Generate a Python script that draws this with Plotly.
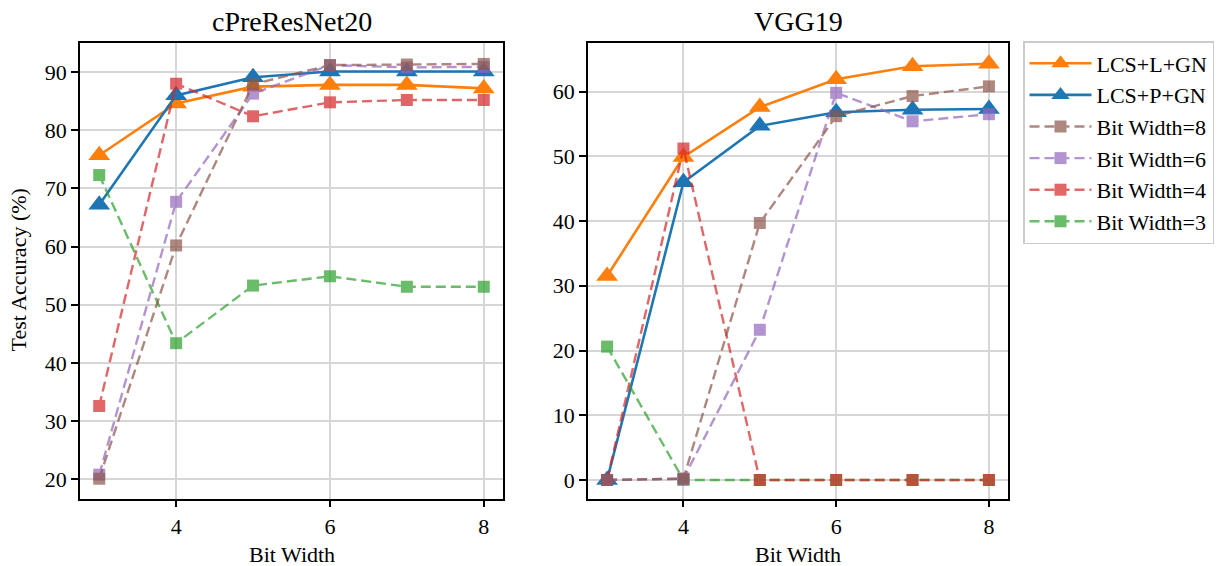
import plotly.graph_objects as go

# Bit widths on the x axis
bit_widths = [3, 4, 5, 6, 7, 8]

# cPreResNet20 test accuracy (%)
res_lcs_l_gn = [75.7, 84.6, 87.5, 87.8, 87.8, 87.2]
res_lcs_p_gn = [67.2, 86.0, 89.1, 90.1, 90.1, 90.1]
res_bw8 = [20.1, 60.2, 87.9, 91.2, 91.3, 91.4]
res_bw6 = [20.8, 67.7, 86.3, 91.2, 90.8, 90.9]
res_bw4 = [32.6, 88.0, 82.4, 84.8, 85.2, 85.2]
res_bw3 = [72.3, 43.4, 53.3, 54.9, 53.1, 53.1]

# VGG19 test accuracy (%)
vgg_lcs_l_gn = [31.5, 49.9, 57.6, 61.9, 63.9, 64.3]
vgg_lcs_p_gn = [0.0, 46.0, 54.7, 56.8, 57.2, 57.3]
vgg_bw8 = [0.0, 0.2, 39.7, 56.2, 59.3, 60.8]
vgg_bw6 = [0.0, 0.2, 23.2, 59.8, 55.4, 56.5]
vgg_bw4 = [0.0, 51.2, 0.0, 0.0, 0.0, 0.0]
vgg_bw3 = [20.6, 0.0, 0.0, 0.0, 0.0, 0.0]

x_ticks = [4, 6, 8]
left_y_ticks = [20, 30, 40, 50, 60, 70, 80, 90]
right_y_ticks = [0, 10, 20, 30, 40, 50, 60]

W, H = 1221, 566
FONT = "Liberation Serif"

ORANGE = "#ff7f0e"
BLUE = "#1f77b4"
BROWN = "#8c564b"
PURPLE = "#9467bd"
RED = "#d62728"
GREEN = "#2ca02c"


def px_x(p):
    return p / W


def px_y(p):
    return 1 - p / H


fig = go.Figure()

panels = [
    ("x", "y", res_lcs_l_gn, res_lcs_p_gn, res_bw8, res_bw6, res_bw4, res_bw3, True),
    ("x2", "y2", vgg_lcs_l_gn, vgg_lcs_p_gn, vgg_bw8, vgg_bw6, vgg_bw4, vgg_bw3, False),
]

for xa, ya, l_gn, p_gn, bw8, bw6, bw4, bw3, show in panels:
    # solid method curves
    for name, vals, color, rank in [
        ("LCS+L+GN", l_gn, ORANGE, 1),
        ("LCS+P+GN", p_gn, BLUE, 2),
    ]:
        fig.add_trace(go.Scatter(
            x=bit_widths, y=vals, name=name, mode="lines+markers",
            line=dict(color=color, width=2.6),
            marker=dict(symbol="triangle-up", size=19, color=color),
            xaxis=xa, yaxis=ya, showlegend=show, legendrank=rank,
            legendgroup=name,
        ))
    # dashed fixed-bit-width baselines
    for name, vals, color, rank in [
        ("Bit Width=3", bw3, GREEN, 6),
        ("Bit Width=4", bw4, RED, 5),
        ("Bit Width=6", bw6, PURPLE, 4),
        ("Bit Width=8", bw8, BROWN, 3),
    ]:
        fig.add_trace(go.Scatter(
            x=bit_widths, y=vals, name=name, mode="lines+markers",
            line=dict(color=color, width=2.4, dash="10px,5px"),
            marker=dict(symbol="square", size=12, color=color),
            opacity=0.7,
            xaxis=xa, yaxis=ya, showlegend=show, legendrank=rank,
            legendgroup=name,
        ))

axis_common = dict(
    showline=True, linecolor="black", linewidth=1.8, mirror=True,
    ticks="outside", ticklen=7, tickwidth=1.8, tickcolor="black",
    showgrid=True, gridcolor="#d6d6d6", gridwidth=1.8,
    zeroline=False,
    tickfont=dict(family=FONT, size=22, color="black"),
)

y_dom = [px_y(498.5), px_y(43)]

fig.update_layout(
    width=W, height=H,
    margin=dict(l=0, r=0, t=0, b=0, autoexpand=False),
    paper_bgcolor="white", plot_bgcolor="white",
    font=dict(family=FONT, size=22, color="black"),
    xaxis=dict(domain=[px_x(80), px_x(503)], range=[2.75, 8.25],
               tickvals=x_ticks, anchor="y", **axis_common),
    yaxis=dict(domain=y_dom, range=[16.7, 95.0],
               tickvals=left_y_ticks, anchor="x", **axis_common),
    xaxis2=dict(domain=[px_x(588), px_x(1008)], range=[2.75, 8.25],
                tickvals=x_ticks, anchor="y2", **axis_common),
    yaxis2=dict(domain=y_dom, range=[-2.86, 67.5],
                tickvals=right_y_ticks, anchor="x2", **axis_common),
    legend=dict(
        x=px_x(1023), y=px_y(41), xanchor="left", yanchor="top",
        bgcolor="white", bordercolor="#cccccc", borderwidth=1.5,
        font=dict(family=FONT, size=22, color="black"),
        itemwidth=62, tracegroupgap=0,
    ),
    showlegend=True,
)

annotations = [
    dict(text="cPreResNet20", x=px_x(291.5), y=px_y(21), font=dict(size=28)),
    dict(text="VGG19", x=px_x(798), y=px_y(21), font=dict(size=28)),
    dict(text="Bit Width", x=px_x(291.5), y=px_y(554), font=dict(size=22)),
    dict(text="Bit Width", x=px_x(798), y=px_y(554), font=dict(size=22)),
    dict(text="Test Accuracy (%)", x=px_x(18), y=px_y(270.5), textangle=-90,
         font=dict(size=22)),
]
for a in annotations:
    fig.add_annotation(xref="paper", yref="paper", showarrow=False,
                       xanchor="center", yanchor="middle",
                       font=dict(family=FONT, color="black", size=a.pop("font")["size"]),
                       **a)

fig.write_html("out.html")
